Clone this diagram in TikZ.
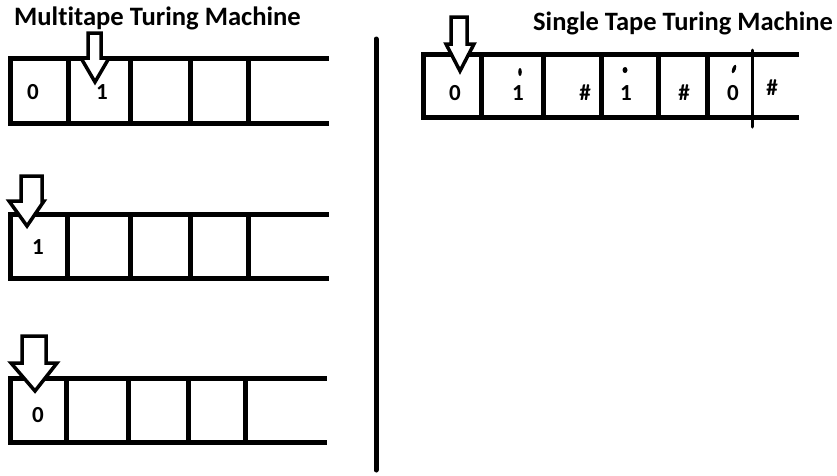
\documentclass[tikz,border=0pt]{standalone}
\usepackage{fontspec}
\setmainfont{Carlito}[Ligatures=NoCommon]
\begin{document}
\begin{tikzpicture}[x=1pt,y=-1pt,
  tapeline/.style={line width=5pt},
  headarrow/.style={line width=3.5pt, fill=white, line join=miter},
  sym/.style={font=\bfseries\fontsize{23}{23}\selectfont, inner sep=0pt},
  titletext/.style={font=\bfseries\fontsize{26.6}{27}\selectfont, inner sep=0pt, anchor=base west}]
\useasboundingbox (0,0) rectangle (837,475);
% titles
\node[titletext] (t1) at (14,25) {Multitape Turing Machine};
\node[titletext, font=\bfseries\fontsize{26.5}{27}\selectfont] (t2) at (533,30) {Single Tape Turing Machine};
% separator
\coordinate (sepa) at (376,39);
\coordinate (sepb) at (376,470);
\draw[line width=5pt, line cap=round] (sepa) -- (sepb);
% ---------- tape 1
\draw[tapeline] (8,58) -- (329,58);
\draw[tapeline] (8,123) -- (329,123);
\foreach \x in {10,68,130,190,248} \draw[tapeline] (\x,58) -- (\x,123);
\node[sym] (a0) at (33,92) {0};
\node[sym] (a1) at (102,92) {1};
\draw[headarrow] (88,33) -- (101,33) -- (101,58) -- (109,58) -- (95,82) -- (81,58) -- (88,58) -- cycle;
% ---------- tape 2
\draw[tapeline] (8,214) -- (329,214);
\draw[tapeline] (8,278) -- (329,278);
\foreach \x in {10,67,130,190,248} \draw[tapeline] (\x,214) -- (\x,278);
\node[sym] (b0) at (38,247) {1};
\draw[headarrow] (21,176) -- (42,176) -- (42,201) -- (44,201) -- (27,226) -- (9,201) -- (21,201) -- cycle;
% ---------- tape 3
\draw[tapeline] (8,378) -- (327,378);
\draw[tapeline] (8,442) -- (327,442);
\foreach \x in {10,66,128,188,245} \draw[tapeline] (\x,378) -- (\x,442);
\node[sym] (c0) at (38,415) {0};
\draw[headarrow] (22,336) -- (46,336) -- (46,363) -- (57,363) -- (35,391) -- (11,363) -- (22,363) -- cycle;
% ---------- single tape
\draw[tapeline] (421,54) -- (799,54);
\draw[tapeline] (421,117) -- (799,117);
\foreach \x in {423,481,543,601,658,707} \draw[tapeline] (\x,54) -- (\x,117);
\draw[line width=3pt, line cap=round] (752,50) -- (752,127);
\node[sym] (s1) at (455,93) {0};
\node[sym] (s2) at (518,93) {1};
\node[sym] (s3) at (585,93) {\#};
\node[sym] (s4) at (626,93) {1};
\node[sym] (s5) at (684,93) {\#};
\node[sym] (s6) at (733,93) {0};
\node[sym] (s7) at (772,88) {\#};
\fill (520,72) ellipse (1.8pt and 4pt);
\fill (625,70) ellipse (2.5pt and 3pt);
\fill[rotate around={-20:(734,69)}] (734,69) ellipse (1.8pt and 4.5pt);
\draw[headarrow] (451,17) -- (467,17) -- (467,44) -- (474,44) -- (460,71) -- (446,44) -- (451,44) -- cycle;
\end{tikzpicture}
\end{document}
